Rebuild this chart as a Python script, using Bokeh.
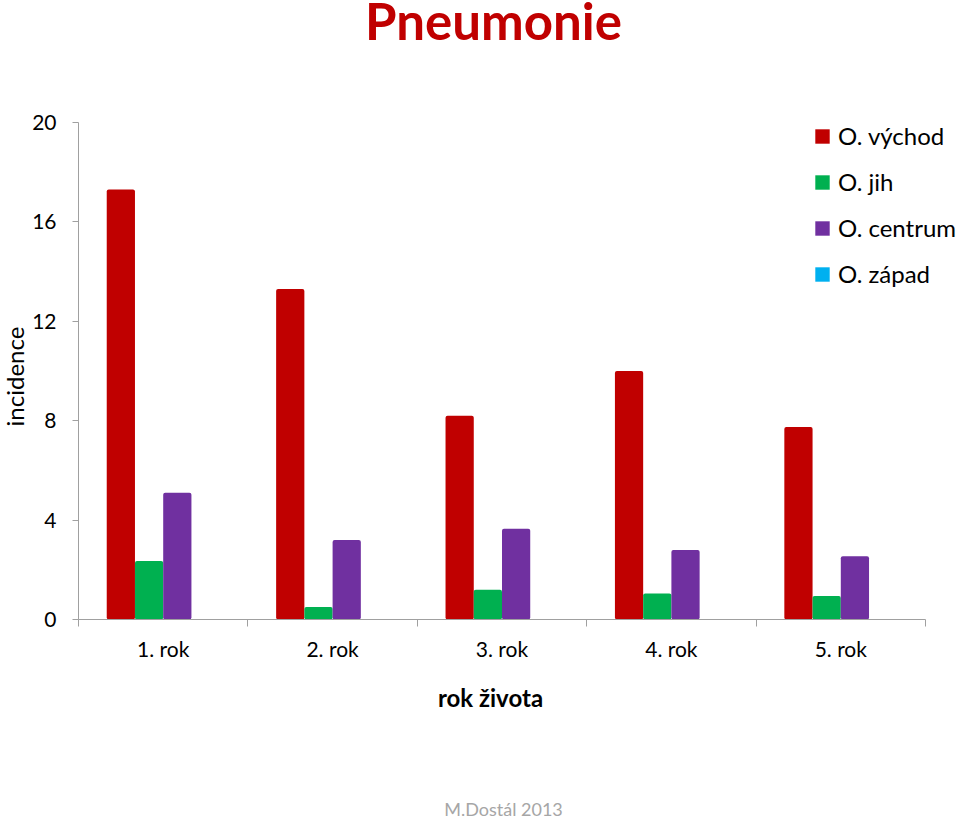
import math
from bokeh.plotting import figure
from bokeh.models import (Range1d, LinearAxis, FixedTicker, Legend,
                          LegendItem, Label, ColumnDataSource)
from bokeh.transform import dodge
from bokeh.embed import file_html
from bokeh.resources import INLINE

categories = ["1. rok", "2. rok", "3. rok", "4. rok", "5. rok"]
series_names = ["O. východ", "O. jih", "O. centrum", "O. západ"]
vychod = [17.3, 13.3, 8.2, 10.0, 7.75]
jih = [2.35, 0.5, 1.2, 1.05, 0.95]
centrum = [5.1, 3.2, 3.65, 2.8, 2.55]
zapad = [0, 0, 0, 0, 0]
colors = ["#C00000", "#00B050", "#7030A0", "#00B0F0"]
y_ticks = [0, 4, 8, 12, 16, 20]
y_max = 20

FONT = "Lato"
AXIS_COLOR = "#A0A0A0"

# page / plotting-area geometry (pixels)
W, H = 960, 818
PX_L, PX_R, PX_T, PX_B = 78, 925, 122, 619

n = len(categories)
centers = [i + 0.5 for i in range(n)]          # category slot centres
boundaries = list(range(n + 1))                 # category slot edges

x_per_px = n / (PX_R - PX_L)
y_per_px = y_max / (PX_B - PX_T)


def dx(px):
    return (px - PX_L) * x_per_px


def dy(py):
    return (PX_B - py) * y_per_px


source = ColumnDataSource(dict(x=centers, vychod=vychod, jih=jih,
                               centrum=centrum, zapad=zapad))

p = figure(x_range=Range1d(dx(0), dx(W)), y_range=Range1d(dy(H), dy(0)),
           width=W, height=H, output_backend="svg", toolbar_location=None,
           x_axis_location=None, y_axis_location=None, min_border=0)
p.outline_line_color = None
p.grid.grid_line_color = None
p.title.visible = False

# y axis
yaxis = LinearAxis(fixed_location=0, bounds=(0, y_max),
                   ticker=FixedTicker(ticks=y_ticks),
                   major_label_text_font=FONT, major_label_text_font_size="21px",
                   major_label_text_color="#000000", major_label_standoff=16,
                   major_tick_out=6, major_tick_in=0,
                   minor_tick_line_color=None,
                   axis_line_color=AXIS_COLOR, major_tick_line_color=AXIS_COLOR)
p.add_layout(yaxis, "left")

# x axis: tick marks at category boundaries
tick_axis = LinearAxis(fixed_location=0, bounds=(0, n),
                       ticker=FixedTicker(ticks=boundaries),
                       major_label_overrides={b: "" for b in boundaries},
                       major_label_text_font_size="1px", major_label_standoff=0,
                       major_tick_out=7, major_tick_in=0,
                       minor_tick_line_color=None,
                       axis_line_color=AXIS_COLOR, major_tick_line_color=AXIS_COLOR)
p.add_layout(tick_axis, "below")

# x axis: category labels at slot centres
cat_axis = LinearAxis(fixed_location=0, bounds=(0, n),
                      ticker=FixedTicker(ticks=centers),
                      major_label_overrides={c: lab for c, lab in zip(centers, categories)},
                      axis_line_color=None, major_tick_line_color=None,
                      major_tick_out=0, major_tick_in=0,
                      minor_tick_line_color=None,
                      major_label_text_font=FONT,
                      major_label_text_font_size="21px",
                      major_label_text_color="#000000",
                      major_label_standoff=16)
p.add_layout(cat_axis, "below")

# bars
cols = ["vychod", "jih", "centrum", "zapad"]
offsets = [-0.25, -1 / 12, 1 / 12, 0.25]
renderers = []
for col, off, c in zip(cols, offsets, colors):
    r = p.vbar(x=dodge("x", off), top=col, width=1 / 6,
               source=source, fill_color=c, line_color=None, border_radius=2)
    renderers.append(r)

# texts
p.add_layout(Label(x=dx(493), y=dy(20), text="Pneumonie", text_font=FONT,
                   text_font_size="51px", text_font_style="bold",
                   text_color="#C00000", text_align="center",
                   text_baseline="alphabetic"))
p.add_layout(Label(x=dx(14), y=dy(376), text="incidence", text_font=FONT,
                   text_font_size="24px", text_color="#000000",
                   angle=math.pi / 2, text_align="center",
                   text_baseline="alphabetic"))
p.add_layout(Label(x=dx(490), y=dy(697), text="rok života", text_font=FONT,
                   text_font_size="24px", text_font_style="bold",
                   text_color="#000000", text_align="center",
                   text_baseline="alphabetic"))
p.add_layout(Label(x=dx(503), y=dy(808), text="M.Dostál 2013", text_font=FONT,
                   text_font_size="18px", text_color="#A6A6A6",
                   text_align="center", text_baseline="alphabetic"))

legend = Legend(items=[LegendItem(label=nm, renderers=[r])
                       for nm, r in zip(series_names, renderers)],
                location=(813, 530), border_line_color=None,
                background_fill_alpha=0, padding=0, margin=0, spacing=17,
                label_standoff=7, glyph_width=18, glyph_height=18,
                label_text_font=FONT, label_text_font_size="24px",
                label_text_color="#000000")
p.add_layout(legend, "center")

open("out.html", "w").write(file_html(p, INLINE))
